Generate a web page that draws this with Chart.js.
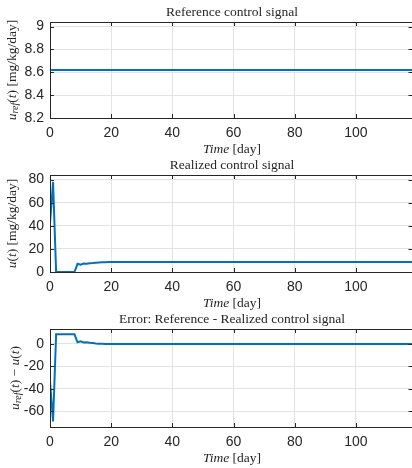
<!DOCTYPE html>
<html lang="en">
<head>
    <meta charset="UTF-8">
    <title>Control signals</title>
    <script src="https://cdn.jsdelivr.net/npm/chart.js"></script>
    <style>
        html, body { margin: 0; padding: 0; background: #fff; overflow: hidden; }
        .panel { position: absolute; left: 0; }
    </style>
</head>
<body>
    <canvas id="refChart" class="panel" style="top:0px" width="414" height="160"></canvas>
    <canvas id="realChart" class="panel" style="top:155px" width="414" height="160"></canvas>
    <canvas id="errChart" class="panel" style="top:309px" width="414" height="159"></canvas>

    <script>
        // days sampled in the plot (tail is flat, so last point closes the line)
        const days = [0, 1, 2, 3, 4, 5, 6, 7, 8, 9, 10, 11, 12, 13, 14, 15, 16, 17, 18, 19, 20, 118.5];

        // reference control signal [mg/kg/day]
        const uRef = [8.62, 8.62, 8.62, 8.62, 8.62, 8.62, 8.62, 8.62, 8.62, 8.62, 8.62,
                      8.62, 8.62, 8.62, 8.62, 8.62, 8.62, 8.62, 8.62, 8.62, 8.62, 8.62];

        // realized control signal [mg/kg/day]
        const uReal = [42.3, 78.0, 0, 0, 0, 0, 0, 0, 0, 7.1, 6.3,
                       7.3, 7.1, 7.6, 7.8, 8.1, 8.3, 8.45, 8.55, 8.6, 8.62, 8.62];

        // error: reference - realized
        const uErr = [-33.7, -69.4, 8.62, 8.62, 8.62, 8.62, 8.62, 8.62, 8.62, 1.5, 2.3,
                      1.3, 1.5, 1.0, 0.8, 0.5, 0.3, 0.17, 0.07, 0.02, 0, 0];

        const xTicksStep = 20;
        const ink = '#262626';
        const lineBlue = '#0072BD';
        const serif = '"Liberation Serif", serif';

        Chart.defaults.font.family = '"Liberation Sans", Arial, sans-serif';
        Chart.defaults.color = ink;

        // draws box, inward ticks, title and LaTeX-like axis labels
        const decor = {
            id: 'decor',
            afterDatasetsDraw(chart, args, opts) {
                const { ctx, chartArea: a, scales: { x, y } } = chart;
                ctx.save();
                ctx.strokeStyle = ink;
                ctx.lineWidth = 1;
                ctx.beginPath();
                x.ticks.forEach(t => {
                    const px = Math.round(x.getPixelForValue(t.value)) + 0.5;
                    ctx.moveTo(px, a.bottom); ctx.lineTo(px, a.bottom - 4);
                    ctx.moveTo(px, a.top); ctx.lineTo(px, a.top + 4);
                });
                y.ticks.forEach(t => {
                    const py = Math.round(y.getPixelForValue(t.value)) + 0.5;
                    ctx.moveTo(a.left, py); ctx.lineTo(a.left + 4, py);
                    ctx.moveTo(a.right, py); ctx.lineTo(a.right - 4, py);
                });
                ctx.stroke();
                ctx.strokeRect(Math.round(a.left) + 0.5, Math.round(a.top) + 0.5,
                               Math.round(a.right - a.left), Math.round(a.bottom - a.top));

                ctx.fillStyle = ink;
                ctx.textBaseline = 'middle';
                ctx.textAlign = 'center';
                ctx.font = '13.5px ' + serif;
                const cx = (a.left + 414) / 2;
                ctx.fillText(opts.title, cx, a.top - 10);

                drawRich(ctx, [['Time', 'i'], [' [day]', 'n']], cx, a.bottom + 31);

                ctx.translate(opts.yLabelX, (a.top + a.bottom) / 2);
                ctx.rotate(-Math.PI / 2);
                drawRich(ctx, opts.yLabel, 0, 0);
                ctx.restore();
            }
        };

        function fontFor(style) {
            if (style === 'i') return 'italic 13.5px ' + serif;
            if (style === 's') return 'italic 10px ' + serif;
            return '13.5px ' + serif;
        }

        function drawRich(ctx, parts, cx, cy) {
            let total = 0;
            parts.forEach(p => { ctx.font = fontFor(p[1]); total += ctx.measureText(p[0]).width; });
            let xPos = cx - total / 2;
            ctx.textAlign = 'left';
            parts.forEach(p => {
                ctx.font = fontFor(p[1]);
                ctx.fillText(p[0], xPos, p[1] === 's' ? cy + 3 : cy);
                xPos += ctx.measureText(p[0]).width;
            });
            ctx.textAlign = 'center';
        }

        function makeChart(id, values, yOpts, deco, padTop, xAxisH, padBottom) {
            const points = days.map((d, i) => ({ x: d, y: values[i] }));
            return new Chart(document.getElementById(id), {
                type: 'line',
                data: {
                    datasets: [{
                        data: points,
                        borderColor: lineBlue,
                        borderWidth: 2,
                        pointRadius: 0,
                        tension: 0,
                        fill: false
                    }]
                },
                options: {
                    responsive: false,
                    animation: false,
                    devicePixelRatio: 1,
                    layout: { padding: { top: padTop, right: 1.5, left: 0, bottom: padBottom } },
                    plugins: { legend: { display: false }, tooltip: { enabled: false }, decor: deco },
                    scales: {
                        x: {
                            type: 'linear',
                            min: 0,
                            max: 118.5,
                            ticks: { stepSize: xTicksStep, includeBounds: false, maxRotation: 0,
                                     padding: 7, font: { size: 14 }, color: ink },
                            grid: { color: '#e3e3e3', drawTicks: false },
                            border: { display: false },
                            afterFit: s => { s.height = xAxisH; }
                        },
                        y: Object.assign({
                            grid: { color: '#e3e3e3', drawTicks: false },
                            border: { display: false },
                            afterFit: s => { s.width = 50; }
                        }, yOpts)
                    }
                },
                plugins: [decor]
            });
        }

        makeChart('refChart', uRef, {
            min: 8.2, max: 9.04,
            ticks: { stepSize: 0.2, includeBounds: false, padding: 6, font: { size: 14 }, color: ink,
                     callback: v => (Math.round(v * 10) / 10).toString() }
        }, {
            title: 'Reference control signal',
            yLabelX: 12,
            yLabel: [['u', 'i'], ['ref', 's'], ['(', 'n'], ['t', 'i'], [') [mg/kg/day]', 'n']]
        }, 22, 32, 10);

        makeChart('realChart', uReal, {
            min: 0, max: 84,
            ticks: { stepSize: 20, includeBounds: false, padding: 6, font: { size: 14 }, color: ink }
        }, {
            title: 'Realized control signal',
            yLabelX: 12,
            yLabel: [['u', 'i'], ['(', 'n'], ['t', 'i'], [') [mg/kg/day]', 'n']]
        }, 20, 33, 10);

        makeChart('errChart', uErr, {
            min: -74.3, max: 13.4,
            ticks: { stepSize: 20, includeBounds: false, padding: 6, font: { size: 14 }, color: ink }
        }, {
            title: 'Error: Reference - Realized control signal',
            yLabelX: 15,
            yLabel: [['u', 'i'], ['ref', 's'], ['(', 'n'], ['t', 'i'], [') \u2212 ', 'n'], ['u', 'i'], ['(', 'n'], ['t', 'i'], [')', 'n']]
        }, 20, 41, 0);
    </script>
</body>
</html>
